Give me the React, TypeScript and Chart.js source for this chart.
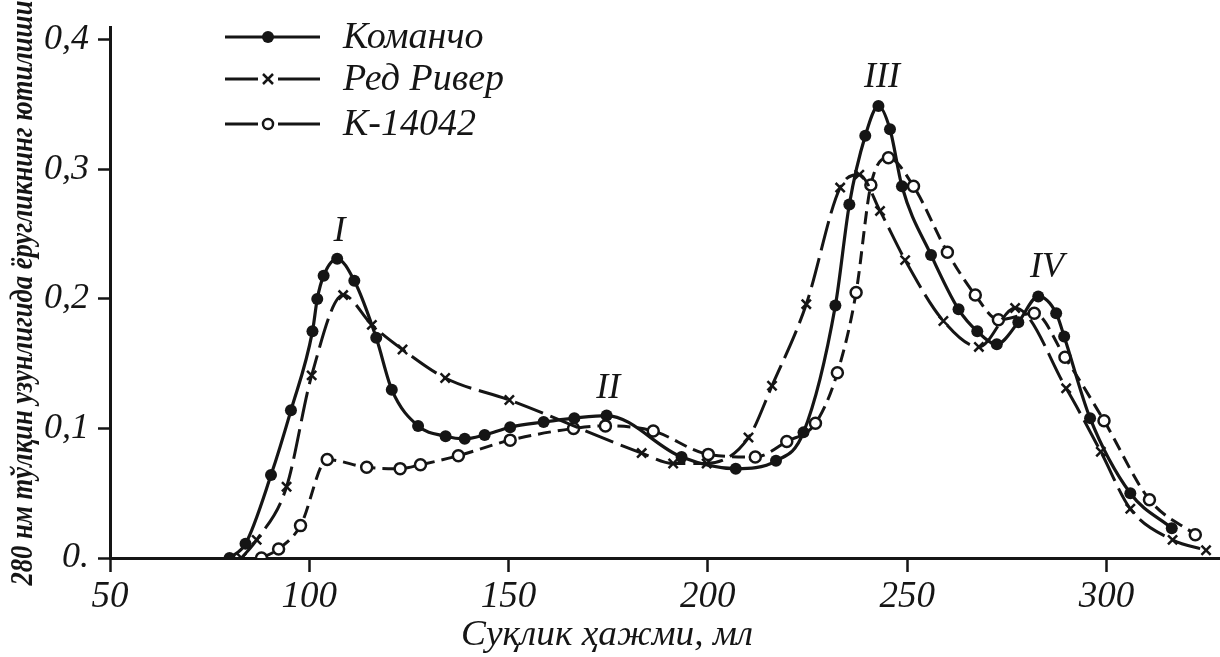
import React, { useEffect, useRef } from "react";
import { Chart, registerables } from "chart.js";

Chart.register(...registerables);

// ---- Data ----
const seriesNames = ["Команчо", "Ред Ривер", "К-14042"];

const comanchoX = [80, 84, 90.4, 95.4, 100.8, 102, 103.6, 107, 111.3, 116.8, 120.7, 127.3, 134.2, 139, 144, 150.4, 158.8, 166.5, 174.6, 193.4, 207, 217.1, 224, 232, 235.5, 239.5, 242.8, 245.7, 248.7, 256, 262.9, 267.6, 272.5, 277.9, 282.9, 287.4, 289.4, 295.9, 306, 316.4];
const comanchoY = [0, 0.011, 0.064, 0.114, 0.175, 0.2, 0.218, 0.231, 0.214, 0.17, 0.13, 0.102, 0.094, 0.092, 0.095, 0.101, 0.105, 0.108, 0.11, 0.078, 0.069, 0.075, 0.097, 0.195, 0.273, 0.326, 0.349, 0.331, 0.287, 0.234, 0.192, 0.175, 0.165, 0.182, 0.202, 0.189, 0.171, 0.108, 0.05, 0.023];

const redRiverX = [83, 86.8, 94.3, 100.6, 108.5, 115.7, 123.4, 134.1, 150.2, 183.4, 191.3, 199.7, 210.2, 216.1, 224.7, 233.2, 238, 243.2, 249.5, 259.1, 268, 277.1, 289.9, 298.6, 306, 316.6, 325];
const redRiverY = [0, 0.014, 0.055, 0.141, 0.203, 0.18, 0.161, 0.139, 0.122, 0.081, 0.073, 0.073, 0.093, 0.133, 0.196, 0.286, 0.296, 0.268, 0.23, 0.183, 0.163, 0.193, 0.131, 0.082, 0.038, 0.014, 0.006];

const k14042X = [88, 92.3, 97.8, 104.5, 114.4, 122.8, 127.9, 137.4, 150.4, 166.3, 174.3, 186.3, 200.1, 211.9, 219.8, 227, 232.5, 237.2, 240.9, 245.3, 251.6, 260.1, 267.1, 272.9, 281.9, 289.6, 299.4, 310.8, 322.3];
const k14042Y = [0, 0.007, 0.025, 0.076, 0.07, 0.069, 0.072, 0.079, 0.091, 0.1, 0.102, 0.098, 0.08, 0.078, 0.09, 0.104, 0.143, 0.205, 0.288, 0.309, 0.287, 0.236, 0.203, 0.184, 0.189, 0.155, 0.106, 0.045, 0.018];

const peakLabels = ["I", "II", "III", "IV"];
const peakLabelX = [107.6, 175.0, 243.7, 285.1];
const peakLabelY = [0.252, 0.131, 0.371, 0.224];

const xTickValues = [50, 100, 150, 200, 250, 300];
const yTickValues = [0, 0.1, 0.2, 0.3, 0.4];

const xTitle = "Суқлик ҳажми, мл";
const yTitle = "280 нм тўлқин узунлигида ёругликнинг ютилиши";

const INK = "#151515";
const SERIF = '"Liberation Serif", "DejaVu Serif", serif';

const zip = (xs: number[], ys: number[]) => xs.map((x, i) => ({ x, y: ys[i] }));

function drawMarker(ctx: CanvasRenderingContext2D, kind: number, x: number, y: number) {
  ctx.save();
  ctx.setLineDash([]);
  ctx.strokeStyle = INK;
  ctx.fillStyle = INK;
  if (kind === 0) {
    ctx.beginPath();
    ctx.arc(x, y, 6, 0, Math.PI * 2);
    ctx.fill();
  } else if (kind === 1) {
    ctx.lineWidth = 2.5;
    const r = 5;
    ctx.beginPath();
    ctx.moveTo(x - r, y - r);
    ctx.lineTo(x + r, y + r);
    ctx.moveTo(x + r, y - r);
    ctx.lineTo(x - r, y + r);
    ctx.stroke();
  } else {
    ctx.lineWidth = 2.5;
    ctx.fillStyle = "#fff";
    ctx.beginPath();
    ctx.arc(x, y, 5, 0, Math.PI * 2);
    ctx.fill();
    ctx.stroke();
  }
  ctx.restore();
}

const decorPlugin = {
  id: "decor",
  afterDraw(chart: any) {
    const ctx: CanvasRenderingContext2D = chart.ctx;
    const xs = chart.scales.x;
    const ys = chart.scales.y;
    ctx.save();
    ctx.fillStyle = INK;
    ctx.strokeStyle = INK;

    // Peak labels
    ctx.font = `italic 36px ${SERIF}`;
    ctx.textAlign = "center";
    ctx.textBaseline = "middle";
    peakLabels.forEach((t, i) => {
      ctx.fillText(t, xs.getPixelForValue(peakLabelX[i]), ys.getPixelForValue(peakLabelY[i]));
    });

    // Legend
    const rows = [37, 79, 124];
    const lx0 = 225, lx1 = 320, mx = 268;
    rows.forEach((ry, i) => {
      ctx.lineWidth = 3;
      ctx.setLineDash([]);
      ctx.beginPath();
      if (i === 0) {
        ctx.moveTo(lx0, ry);
        ctx.lineTo(lx1, ry);
      } else {
        ctx.moveTo(lx0, ry);
        ctx.lineTo(mx - 10, ry);
        ctx.moveTo(mx + 10, ry);
        ctx.lineTo(lx1, ry);
      }
      ctx.stroke();
      drawMarker(ctx, i, mx, ry);
      ctx.font = `italic 38px ${SERIF}`;
      ctx.textAlign = "left";
      ctx.textBaseline = "middle";
      ctx.fillText(seriesNames[i], 343, ry + 1);
    });

    // X title
    ctx.font = `italic 36px ${SERIF}`;
    ctx.textAlign = "center";
    ctx.textBaseline = "middle";
    {
      const w = ctx.measureText(xTitle).width;
      const target = 292;
      ctx.save();
      ctx.translate(607, 636);
      ctx.scale(target / w, 1);
      ctx.fillText(xTitle, 0, 0);
      ctx.restore();
    }

    // Y title
    ctx.font = `bold italic 31px ${SERIF}`;
    {
      const w = ctx.measureText(yTitle).width;
      const target = 585;
      ctx.save();
      ctx.translate(24, 293);
      ctx.rotate(-Math.PI / 2);
      ctx.scale(target / w, 1);
      ctx.fillText(yTitle, 0, 0);
      ctx.restore();
    }
    ctx.restore();
  },
};

export default function App() {
  const canvasRef = useRef<HTMLCanvasElement | null>(null);

  useEffect(() => {
    document.body.style.margin = "0";
    const canvas = canvasRef.current;
    if (!canvas) return;
    const chart = new Chart(canvas, {
      type: "line",
      data: {
        datasets: [
          {
            label: seriesNames[0],
            data: zip(comanchoX, comanchoY),
            borderColor: INK,
            borderWidth: 3.2,
            pointStyle: "circle",
            pointRadius: 6,
            pointBackgroundColor: INK,
            pointBorderColor: INK,
            pointBorderWidth: 0,
            cubicInterpolationMode: "monotone",
            fill: false,
          },
          {
            label: seriesNames[1],
            data: zip(redRiverX, redRiverY),
            borderColor: INK,
            borderWidth: 3,
            borderDash: [30, 8],
            pointStyle: "crossRot",
            pointRadius: 6.5,
            pointBorderColor: INK,
            pointBorderWidth: 2.5,
            cubicInterpolationMode: "monotone",
            fill: false,
          },
          {
            label: seriesNames[2],
            data: zip(k14042X, k14042Y),
            borderColor: INK,
            borderWidth: 3,
            borderDash: [13, 7],
            pointStyle: "circle",
            pointRadius: 5.5,
            pointBackgroundColor: "#fff",
            pointBorderColor: INK,
            pointBorderWidth: 2.5,
            cubicInterpolationMode: "monotone",
            fill: false,
          },
        ],
      },
      options: {
        animation: false,
        responsive: false,
        devicePixelRatio: 1,
        events: [],
        layout: { autoPadding: false, padding: { top: 27, right: 0, left: 0, bottom: 0 } },
        plugins: { legend: { display: false }, tooltip: { enabled: false }, title: { display: false } },
        scales: {
          x: {
            type: "linear",
            min: 50,
            max: 328.5,
            afterFit: (s: any) => {
              s.height = 99;
              s.paddingLeft = 0;
              s.paddingRight = 0;
            },
            afterBuildTicks: (s: any) => {
              s.ticks = xTickValues.map((v) => ({ value: v }));
            },
            ticks: {
              color: INK,
              padding: 3,
              maxRotation: 0,
              autoSkip: false,
              font: { family: SERIF, style: "italic", size: 37 },
              callback: (v: any) => String(v),
            },
            grid: {
              display: true,
              drawOnChartArea: false,
              drawTicks: true,
              tickLength: 14,
              tickColor: INK,
              tickWidth: 2.5,
            },
            border: { display: true, color: INK, width: 3 },
          },
          y: {
            type: "linear",
            min: 0,
            max: 0.41,
            afterFit: (s: any) => {
              s.width = 110;
              s.paddingTop = 0;
              s.paddingBottom = 0;
            },
            afterBuildTicks: (s: any) => {
              s.ticks = yTickValues.map((v) => ({ value: v }));
            },
            ticks: {
              color: INK,
              padding: 9,
              autoSkip: false,
              font: { family: SERIF, style: "italic", size: 36 },
              callback: (v: any) => (Number(v) === 0 ? "0." : Number(v).toFixed(1).replace(".", ",")),
            },
            grid: {
              display: true,
              drawOnChartArea: false,
              drawTicks: true,
              tickLength: 12,
              tickColor: INK,
              tickWidth: 2.5,
            },
            border: { display: true, color: INK, width: 3 },
          },
        },
      },
      plugins: [decorPlugin],
    } as any);
    return () => chart.destroy();
  }, []);

  return (
    <div style={{ width: 1220, height: 657, background: "#fff" }}>
      <canvas ref={canvasRef} width={1220} height={657} style={{ display: "block" }} />
    </div>
  );
}
